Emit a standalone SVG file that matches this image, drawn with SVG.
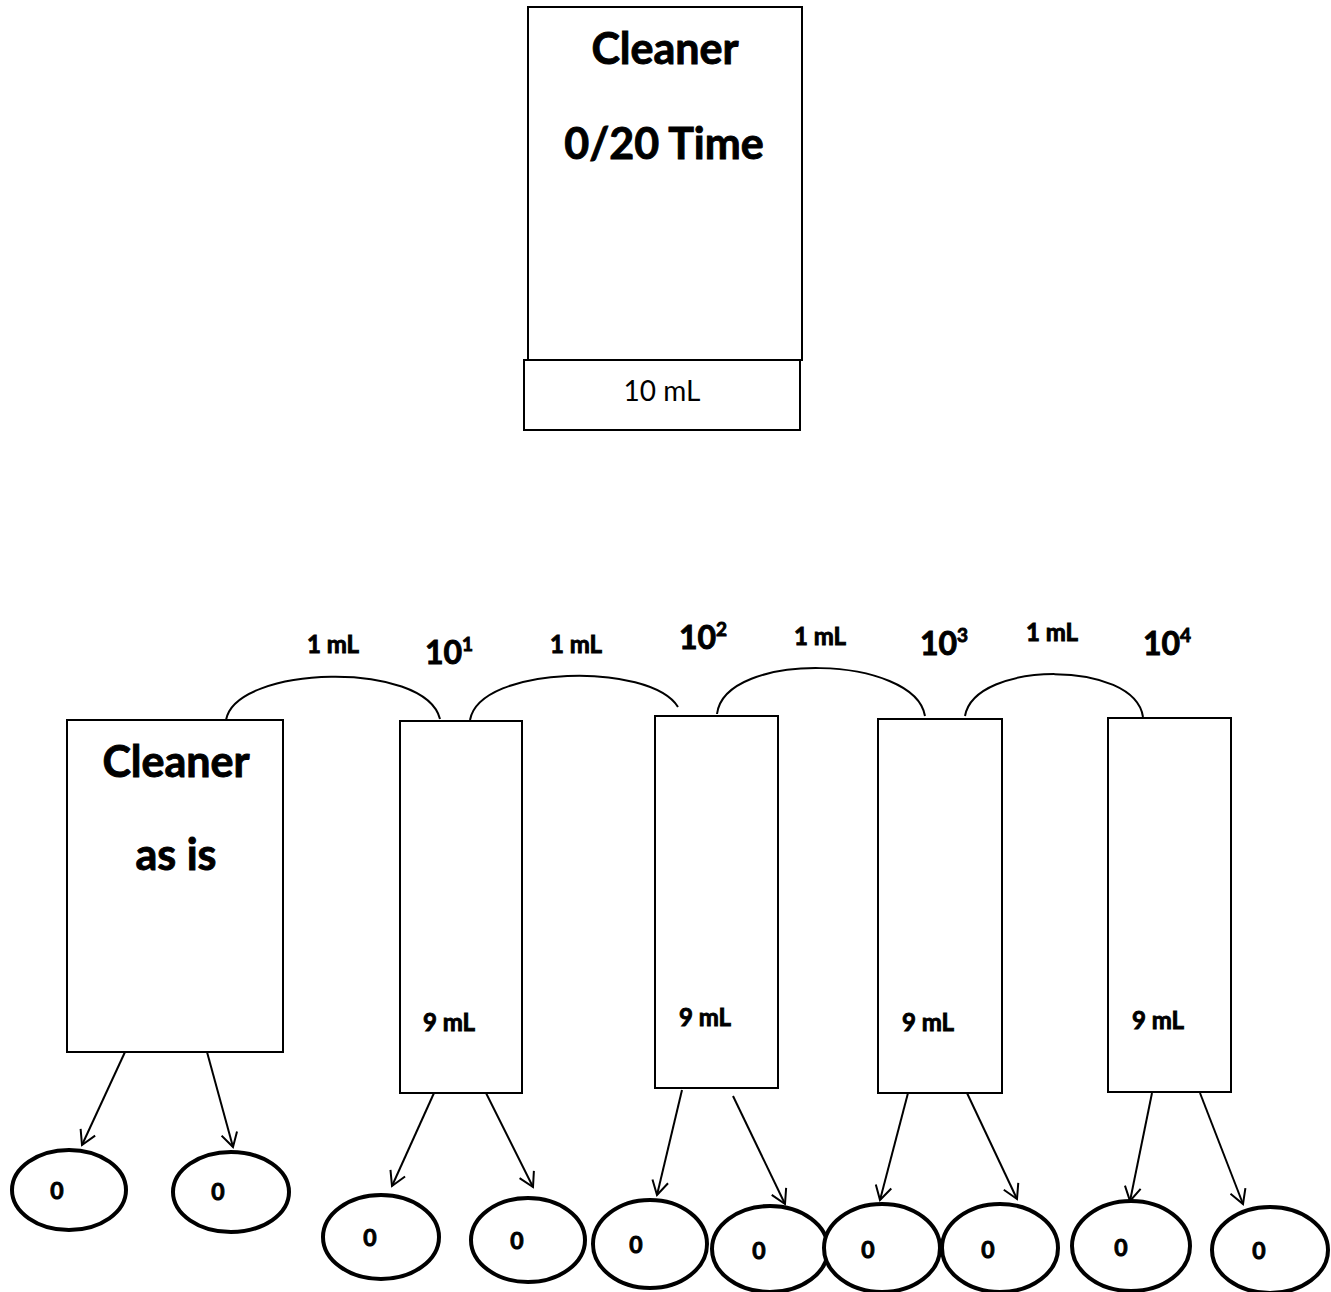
<svg xmlns="http://www.w3.org/2000/svg" width="1331" height="1292" viewBox="0 0 1331 1292">
<style>
.box{fill:#fff;stroke:#000;stroke-width:2}
.ell{fill:#fff;stroke:#000;stroke-width:4}
.arc{fill:none;stroke:#000;stroke-width:2}
.arr{fill:none;stroke:#000;stroke-width:2;marker-end:url(#ah)}
text{font-family:Lato,"Open Sans","Liberation Sans",sans-serif;fill:#000;text-anchor:middle}
.b{font-weight:bold;stroke:#000;stroke-width:0.9}
.big{font-size:43px}
.ml{font-size:24px}
.exp{font-size:32px}
.sup{font-size:19px}
.z{font-size:23px}
</style>
<defs>
<marker id="ah" markerWidth="18" markerHeight="18" refX="15" refY="9" orient="auto" markerUnits="userSpaceOnUse">
<path d="M1,1 L15,9 L1,17" fill="none" stroke="#000" stroke-width="2"/>
</marker>
</defs>
<rect width="1331" height="1292" fill="#fff"/>
<g id="top-cleaner">
<rect class="box" x="528" y="7" width="274" height="353"/>
<text class="b big" x="665" y="64">Cleaner</text>
<text class="b big" x="664" y="159">0/20 Time</text>
</g>
<g id="top-volume">
<rect class="box" x="524" y="360" width="276" height="70"/>
<text x="662" y="401" style="font-size:28px">10 mL</text>
</g>
<g id="cleaner-as-is">
<rect class="box" x="67" y="720" width="216" height="332"/>
<text class="b big" x="176" y="777">Cleaner</text>
<text class="b big" x="176" y="870">as is</text>
</g>
<g id="tube1">
<rect class="box" x="400" y="721" width="122" height="372"/>
<text class="b ml" x="449" y="1031">9 mL</text>
</g>
<g id="tube2">
<rect class="box" x="655" y="716" width="123" height="372"/>
<text class="b ml" x="705" y="1026">9 mL</text>
</g>
<g id="tube3">
<rect class="box" x="878" y="719" width="124" height="374"/>
<text class="b ml" x="928" y="1031">9 mL</text>
</g>
<g id="tube4">
<rect class="box" x="1108" y="718" width="123" height="374"/>
<text class="b ml" x="1158" y="1029">9 mL</text>
</g>
<g id="labels">
<text class="b ml" x="333" y="653">1 mL</text>
<text class="b ml" x="576" y="653">1 mL</text>
<text class="b ml" x="820" y="645">1 mL</text>
<text class="b ml" x="1052" y="641">1 mL</text>
<text class="b exp" x="449" y="664">10<tspan class="sup" dy="-13">1</tspan></text>
<text class="b exp" x="703" y="649">10<tspan class="sup" dy="-13">2</tspan></text>
<text class="b exp" x="944" y="655">10<tspan class="sup" dy="-13">3</tspan></text>
<text class="b exp" x="1167" y="655">10<tspan class="sup" dy="-13">4</tspan></text>
</g>
<g id="plates">
<ellipse class="ell" cx="69" cy="1190" rx="57" ry="40"/>
<text class="b z" x="57" y="1199">0</text>
<ellipse class="ell" cx="231" cy="1192" rx="58" ry="40"/>
<text class="b z" x="218" y="1200">0</text>
<ellipse class="ell" cx="381" cy="1237" rx="58" ry="42"/>
<text class="b z" x="370" y="1246">0</text>
<ellipse class="ell" cx="528" cy="1240" rx="57" ry="42"/>
<text class="b z" x="517" y="1249">0</text>
<ellipse class="ell" cx="650" cy="1244" rx="57" ry="44"/>
<text class="b z" x="636" y="1253">0</text>
<ellipse class="ell" cx="770" cy="1249" rx="58" ry="43"/>
<text class="b z" x="759" y="1259">0</text>
<ellipse class="ell" cx="882" cy="1248" rx="58" ry="44"/>
<text class="b z" x="868" y="1258">0</text>
<ellipse class="ell" cx="1000" cy="1248" rx="58" ry="44"/>
<text class="b z" x="988" y="1258">0</text>
<ellipse class="ell" cx="1131" cy="1246" rx="59" ry="45"/>
<text class="b z" x="1121" y="1256">0</text>
<ellipse class="ell" cx="1270" cy="1250" rx="58" ry="43"/>
<text class="b z" x="1259" y="1259">0</text>
</g>
<g id="connectors">
<path class="arc" d="M226,720 C236,665 425,660 440,719"/>
<path class="arc" d="M470,720 C480,665 650,662 678,707"/>
<path class="arc" d="M717,714 C725,650 915,655 925,716"/>
<path class="arc" d="M965,716 C975,660 1135,660 1143,717"/>
<line class="arr" x1="125" y1="1052" x2="82" y2="1145"/>
<line class="arr" x1="207" y1="1052" x2="233" y2="1147"/>
<line class="arr" x1="434" y1="1093" x2="392" y2="1186"/>
<line class="arr" x1="486" y1="1093" x2="533" y2="1187"/>
<line class="arr" x1="682" y1="1090" x2="657" y2="1195"/>
<line class="arr" x1="733" y1="1096" x2="785" y2="1204"/>
<line class="arr" x1="908" y1="1093" x2="880" y2="1200"/>
<line class="arr" x1="967" y1="1093" x2="1017" y2="1199"/>
<line class="arr" x1="1152" y1="1093" x2="1130" y2="1201"/>
<line class="arr" x1="1200" y1="1093" x2="1243" y2="1204"/>
</g>
</svg>
